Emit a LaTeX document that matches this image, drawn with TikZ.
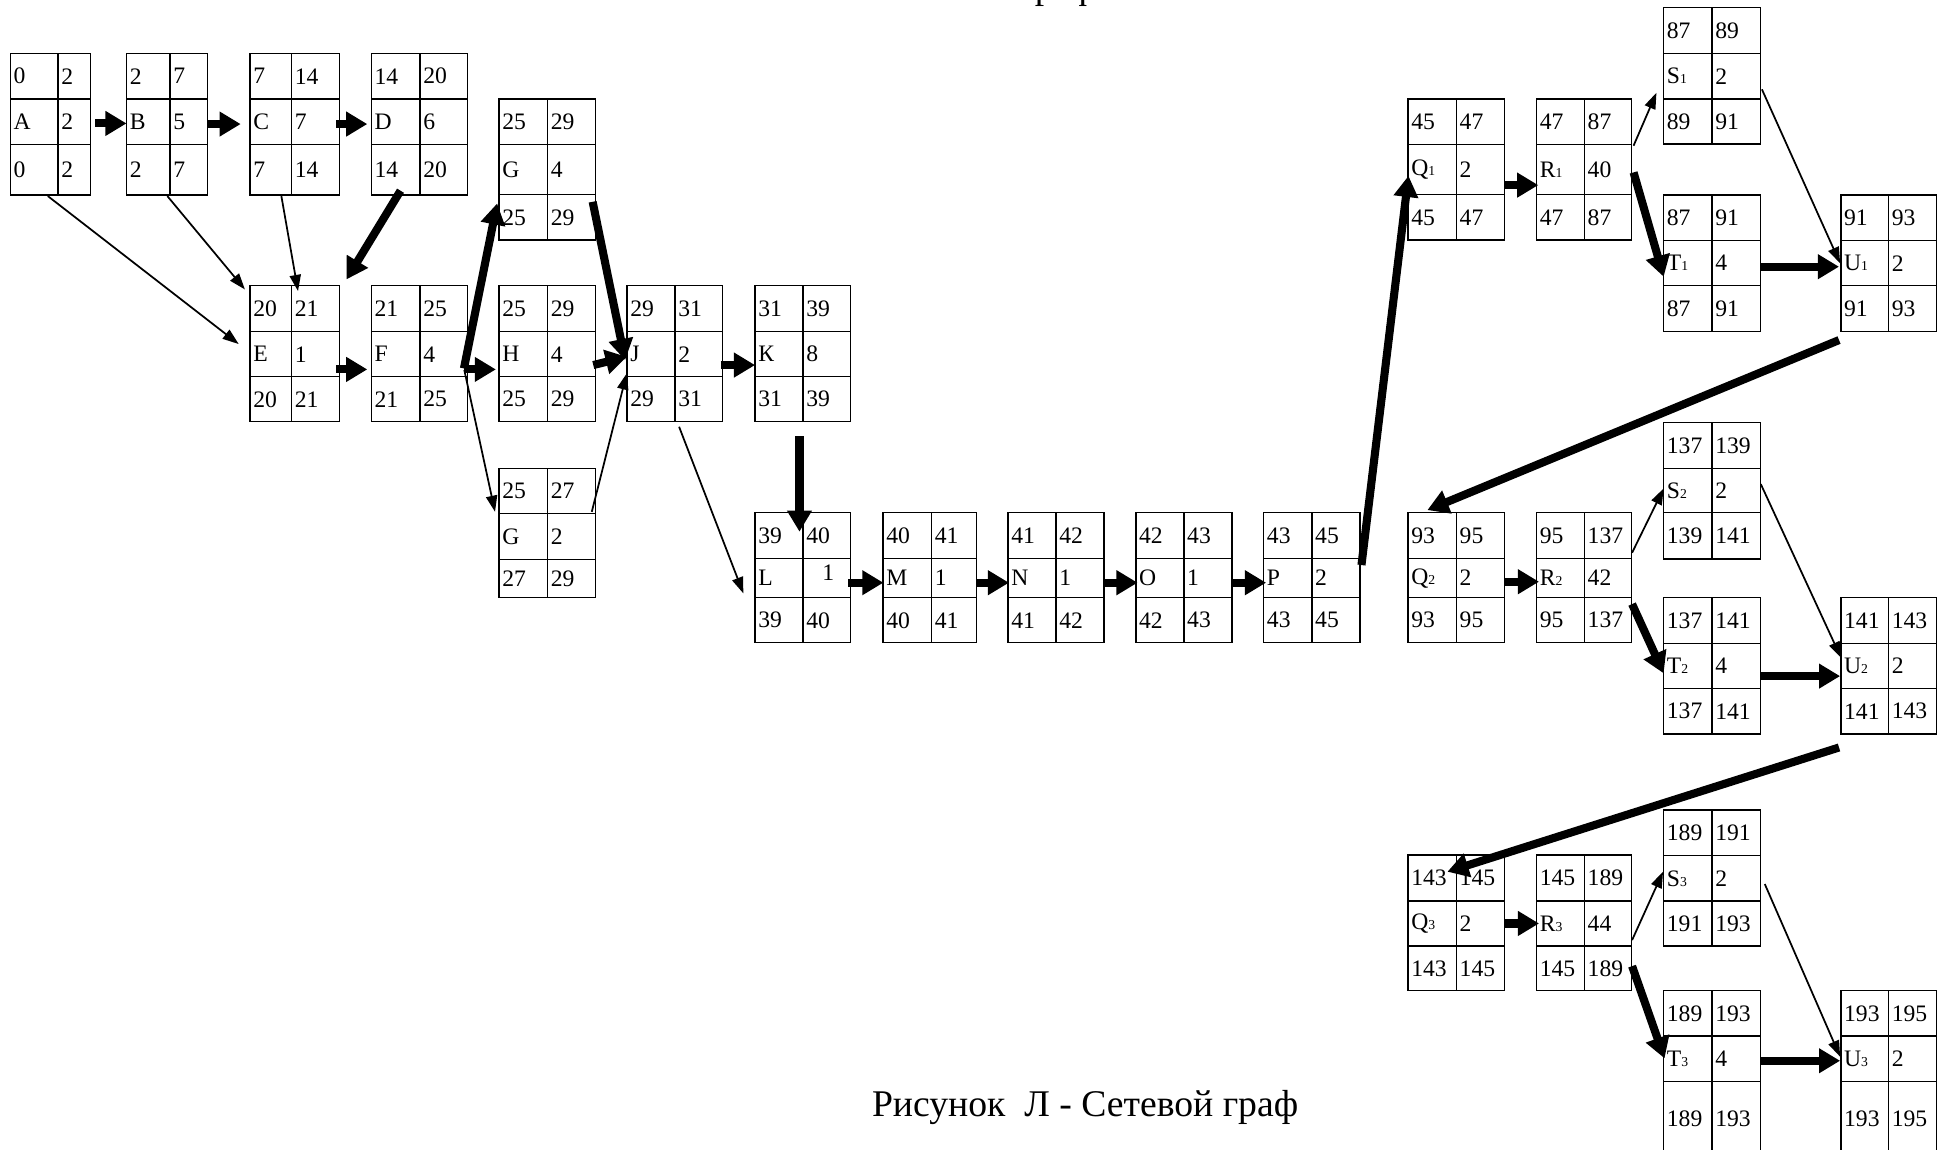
\documentclass[tikz,border=0pt]{standalone}
\usepackage{fontspec}
\setmainfont{Liberation Serif}
\usetikzlibrary{matrix,arrows.meta}
\newcommand{\cellfont}{\fontsize{19pt}{19pt}\selectfont}
\newcommand{\capfont}{\fontsize{30.3pt}{30.3pt}\selectfont}
\newcommand{\sbs}[1]{{\fontsize{11pt}{11pt}\selectfont #1}}
\tikzset{
  cell/.style={draw, line width=1.1pt, inner xsep=0pt, inner ysep=0pt, outer sep=0pt,
    align=left, anchor=center, font=\cellfont, execute at begin node={\hspace*{2.6pt}}},
  bx/.style n args={5}{matrix of nodes, anchor=north west, inner sep=0pt, outer sep=0pt,
    row sep=-1.1pt, column sep=-1.1pt, nodes={cell},
    column 1/.style={nodes={text width=#1pt}},
    column 2/.style={nodes={text width=#2pt}},
    row 1/.style={nodes={minimum height=#3pt}},
    row 2/.style={nodes={minimum height=#4pt}},
    row 3/.style={nodes={minimum height=#5pt}}},
  thk/.style={line width=6.5pt, -{Triangle[width=19pt,length=17pt]}},
  thn/.style={line width=1.4pt, -{Triangle[width=9pt,length=13pt]}},
  captxt/.style={anchor=base west, font=\capfont, inner sep=0pt}
}
\begin{document}
\begin{tikzpicture}[x=1pt,y=-1pt]
\useasboundingbox (0,0) rectangle (1568,924);
\begin{scope}
\clip (0,0) rectangle (1568,924);
\matrix (A) [bx={38.4}{26}{36.7}{36.5}{40.7}] at (7.8,42.4) {0 & 2\\ A & 2\\ 0 & 2\\};
\matrix (B) [bx={35}{30.1}{36.7}{36.5}{40.7}] at (101.2,42.4) {2 & 7\\ B & 5\\ 2 & 7\\};
\matrix (C) [bx={33.4}{38.4}{36.7}{36.5}{40.7}] at (200.6,42.4) {7 & 14\\ C & 7\\ 7 & 14\\};
\matrix (D) [bx={39.1}{38.3}{36.7}{36.5}{40.7}] at (298.1,42.4) {14 & 20\\ D & 6\\ 14 & 20\\};
\matrix (E) [bx={33.4}{38.5}{37}{36.2}{36.2}] at (200.6,229.2) {20 & 21\\ E & 1\\ 20 & 21\\};
\matrix (F) [bx={39.1}{38.3}{37}{36.2}{36.2}] at (298.1,229.2) {21 & 25\\ F & 4\\ 21 & 25\\};
\matrix (Gt) [bx={39}{38.4}{36.4}{40.5}{36.5}] at (400.8,79.1) {25 & 29\\ G & 4\\ 25 & 29\\};
\matrix (H) [bx={39}{38.4}{37}{36.2}{36.2}] at (400.8,229.2) {25 & 29\\ H & 4\\ 25 & 29\\};
\matrix (Gb) [bx={39}{38.4}{36.2}{37}{30.8}] at (400.8,376.1) {25 & 27\\ G & 2\\ 27 & 29\\};
\matrix (J) [bx={38.6}{38.3}{37}{36.2}{36.2}] at (503.7,229.2) {29 & 31\\ J & 2\\ 29 & 31\\};
\matrix (K) [bx={38.6}{38.3}{37}{36.2}{36.2}] at (606.6,229.2) {31 & 39\\ К & 8\\ 31 & 39\\};
\matrix (L) [bx={38.6}{38.3}{36.8}{31.6}{36.2}] at (606.6,411.7) {39 & 40\\ L & \hspace*{13pt}\raisebox{4pt}[0pt][0pt]{1}\vphantom{0}\\ 39 & 40\\};
\matrix (M) [bx={39}{36}{36.8}{31.6}{36.2}] at (709.5,411.7) {40 & 41\\ M & 1\\ 40 & 41\\};
\matrix (N) [bx={38.7}{38.5}{36.8}{31.6}{36.2}] at (810,411.7) {41 & 42\\ N & 1\\ 41 & 42\\};
\matrix (O) [bx={38.7}{38.7}{36.8}{31.6}{36.2}] at (912.8,411.7) {42 & 43\\ O & 1\\ 42 & 43\\};
\matrix (P) [bx={38.8}{38.7}{36.8}{31.6}{36.2}] at (1015.6,411.7) {43 & 45\\ P & 2\\ 43 & 45\\};
\matrix (Qa) [bx={38.9}{38.6}{36.4}{40.5}{36.5}] at (1131.7,79.1) {45 & 47\\ Q\sbs{1} & 2\\ 45 & 47\\};
\matrix (Ra) [bx={38.5}{38}{36.4}{40.5}{36.5}] at (1235,79.1) {47 & 87\\ R\sbs{1} & 40\\ 47 & 87\\};
\matrix (Sa) [bx={38.9}{38.7}{37}{36.7}{36.2}] at (1337.2,5.4) {87 & 89\\ S\sbs{1} & 2\\ 89 & 91\\};
\matrix (Ta) [bx={38.9}{38.7}{36.7}{36.2}{37}] at (1337.2,156.3) {87 & 91\\ T\sbs{1} & 4\\ 87 & 91\\};
\matrix (Ua) [bx={38.3}{38.6}{36.7}{36.2}{37}] at (1479.7,156.3) {91 & 93\\ U\sbs{1} & 2\\ 91 & 93\\};
\matrix (Qb) [bx={38.9}{38.6}{36.8}{31.6}{36.2}] at (1131.7,411.7) {93 & 95\\ Q\sbs{2} & 2\\ 93 & 95\\};
\matrix (Rb) [bx={38.5}{38}{36.8}{31.6}{36.2}] at (1235,411.7) {95 & 137\\ R\sbs{2} & 42\\ 95 & 137\\};
\matrix (Sb) [bx={38.9}{38.7}{37}{35.6}{37.3}] at (1337.2,339.1) {137 & 139\\ S\sbs{2} & 2\\ 139 & 141\\};
\matrix (Tb) [bx={38.9}{38.7}{36.7}{36.2}{36.7}] at (1337.2,480.1) {137 & 141\\ T\sbs{2} & 4\\ 137 & 141\\};
\matrix (Ub) [bx={38.3}{38.6}{36.7}{36.2}{36.7}] at (1479.7,480.1) {141 & 143\\ U\sbs{2} & 2\\ 141 & 143\\};
\matrix (Qc) [bx={38.9}{38.6}{36.8}{36.4}{35.9}] at (1131.7,687) {143 & 145\\ Q\sbs{3} & 2\\ 143 & 145\\};
\matrix (Rc) [bx={38.5}{38}{36.8}{36.4}{35.9}] at (1235,687) {145 & 189\\ R\sbs{3} & 44\\ 145 & 189\\};
\matrix (Sc) [bx={38.9}{38.7}{36.8}{36.2}{36.4}] at (1337.2,650.8) {189 & 191\\ S\sbs{3} & 2\\ 191 & 193\\};
\matrix (Tc) [bx={38.9}{38.7}{36.4}{36.8}{60}] at (1337.2,796.1) {189 & 193\\ T\sbs{3} & 4\\ 189 & 193\\};
\matrix (Uc) [bx={38.3}{38.6}{36.4}{36.8}{60}] at (1479.7,796.1) {193 & 195\\ U\sbs{3} & 2\\ 193 & 195\\};
% connectors
\draw[thk] ([shift={(68.4,56.3)}]A-1-1.north west) -- ([shift={(0,56.3)}]B-1-1.north west);
\draw[thk] ([shift={(65.1,56.8)}]B-1-1.north west) -- ([shift={(-7.6,56.8)}]C-1-1.north west);
\draw[thk] ([shift={(69.2,56.8)}]C-1-1.north west) -- ([shift={(-3.3,56.8)}]D-1-1.north west);
\draw[thn] ([shift={(30.1,114.7)}]A-1-1.north west) -- ([shift={(-9.2,46.9)}]E-1-1.north west);
\draw[thn] ([shift={(32.8,114.7)}]B-1-1.north west) -- ([shift={(-4.2,3)}]E-1-1.north west);
\draw[thn] ([shift={(25.1,114.7)}]C-1-1.north west) -- ([shift={(38.5,4.3)}]E-1-1.north west);
\draw[thk] ([shift={(23.4,110.4)}]D-1-1.north west) -- ([shift={(77.5,-5.1)}]E-1-1.north west);
\draw[thk] ([shift={(69.2,67.3)}]E-1-1.north west) -- ([shift={(-3.3,67.3)}]F-1-1.north west);
\draw[thk] ([shift={(74.4,66.5)}]F-1-1.north west) -- ([shift={(-1.6,83.9)}]Gt-1-1.north west);
\draw[thk] ([shift={(74.4,67.3)}]F-1-1.north west) -- ([shift={(-2.6,67.3)}]H-1-1.north west);
\draw[thn] ([shift={(74.7,67.8)}]F-1-1.north west) -- ([shift={(-3.3,34.9)}]Gb-1-1.north west);
\draw[thk] ([shift={(75.2,82.6)}]Gt-1-1.north west) -- ([shift={(-1.6,59.8)}]J-1-1.north west);
\draw[thk] ([shift={(75.7,63.8)}]H-1-1.north west) -- ([shift={(-0.3,57.1)}]J-1-1.north west);
\draw[thn] ([shift={(74.5,34.9)}]Gb-1-1.north west) -- ([shift={(-0.3,70.5)}]J-1-1.north west);
\draw[thk] ([shift={(75.3,63.8)}]J-1-1.north west) -- ([shift={(0,63.8)}]K-1-1.north west);
\draw[thn] ([shift={(41.8,113.4)}]J-1-1.north west) -- ([shift={(-9.4,64.9)}]L-1-1.north west);
\draw[thk] ([shift={(35.7,120.9)}]K-1-1.north west) -- ([shift={(35.7,15.3)}]L-1-1.north west);
\draw[thk] ([shift={(75.1,56.3)}]L-1-1.north west) -- ([shift={(0.3,56.3)}]M-1-1.north west);
\draw[thk] ([shift={(75.5,56.3)}]M-1-1.north west) -- ([shift={(0.8,56.3)}]N-1-1.north west);
\draw[thk] ([shift={(77.5,56.3)}]N-1-1.north west) -- ([shift={(1.4,56.3)}]O-1-1.north west);
\draw[thk] ([shift={(77.4,56.3)}]O-1-1.north west) -- ([shift={(1.9,56.3)}]P-1-1.north west);
\draw[thk] ([shift={(78.6,42.1)}]P-1-1.north west) -- ([shift={(0.3,61.7)}]Qa-1-1.north west);
\draw[thk] ([shift={(77.5,69.2)}]Qa-1-1.north west) -- ([shift={(1.4,69.2)}]Ra-1-1.north west);
\draw[thn] ([shift={(78,37.5)}]Ra-1-1.north west) -- ([shift={(-5.8,68.6)}]Sa-1-1.north west);
\draw[thk] ([shift={(78,59)}]Ra-1-1.north west) -- ([shift={(0,65.7)}]Ta-1-1.north west);
\draw[thn] ([shift={(79,65.9)}]Sa-1-1.north west) -- ([shift={(-0.6,54.9)}]Ua-1-1.north west);
\draw[thk] ([shift={(78.1,57.6)}]Ta-1-1.north west) -- ([shift={(-1.5,57.6)}]Ua-1-1.north west);
\draw[thk] ([shift={(-1.5,116.6)}]Ua-1-1.north west) -- ([shift={(15.5,-2.1)}]Qb-1-1.north west);
\draw[thk] ([shift={(77.5,55.5)}]Qb-1-1.north west) -- ([shift={(2,55.5)}]Rb-1-1.north west);
\draw[thn] ([shift={(76.8,32.2)}]Rb-1-1.north west) -- ([shift={(0,53.1)}]Sb-1-1.north west);
\draw[thk] ([shift={(76.8,73.5)}]Rb-1-1.north west) -- ([shift={(0,60.8)}]Tb-1-1.north west);
\draw[thn] ([shift={(78.1,49.6)}]Sb-1-1.north west) -- ([shift={(0.2,48.4)}]Ub-1-1.north west);
\draw[thk] ([shift={(78.1,63)}]Tb-1-1.north west) -- ([shift={(-0.6,63)}]Ub-1-1.north west);
\draw[thk] ([shift={(-1.5,120.4)}]Ub-1-1.north west) -- ([shift={(31.6,13.4)}]Qc-1-1.north west);
\draw[thk] ([shift={(77.5,55)}]Qc-1-1.north west) -- ([shift={(2,55)}]Rc-1-1.north west);
\draw[thn] ([shift={(76.8,68.4)}]Rc-1-1.north west) -- ([shift={(-0.5,49.6)}]Sc-1-1.north west);
\draw[thk] ([shift={(76.8,89.3)}]Rc-1-1.north west) -- ([shift={(0.7,54.4)}]Tc-1-1.north west);
\draw[thn] ([shift={(81.3,59.5)}]Sc-1-1.north west) -- ([shift={(-0.6,53.1)}]Uc-1-1.north west);
\draw[thk] ([shift={(78.1,56.3)}]Tc-1-1.north west) -- ([shift={(-0.6,56.3)}]Uc-1-1.north west);
% texts
\node[captxt] (cap) at (701,898) {Рисунок~~Л - Сетевой граф};
\node[captxt] (toptxt) at (819.6,-1.5) {граф};
\end{scope}
\end{tikzpicture}
\end{document}
